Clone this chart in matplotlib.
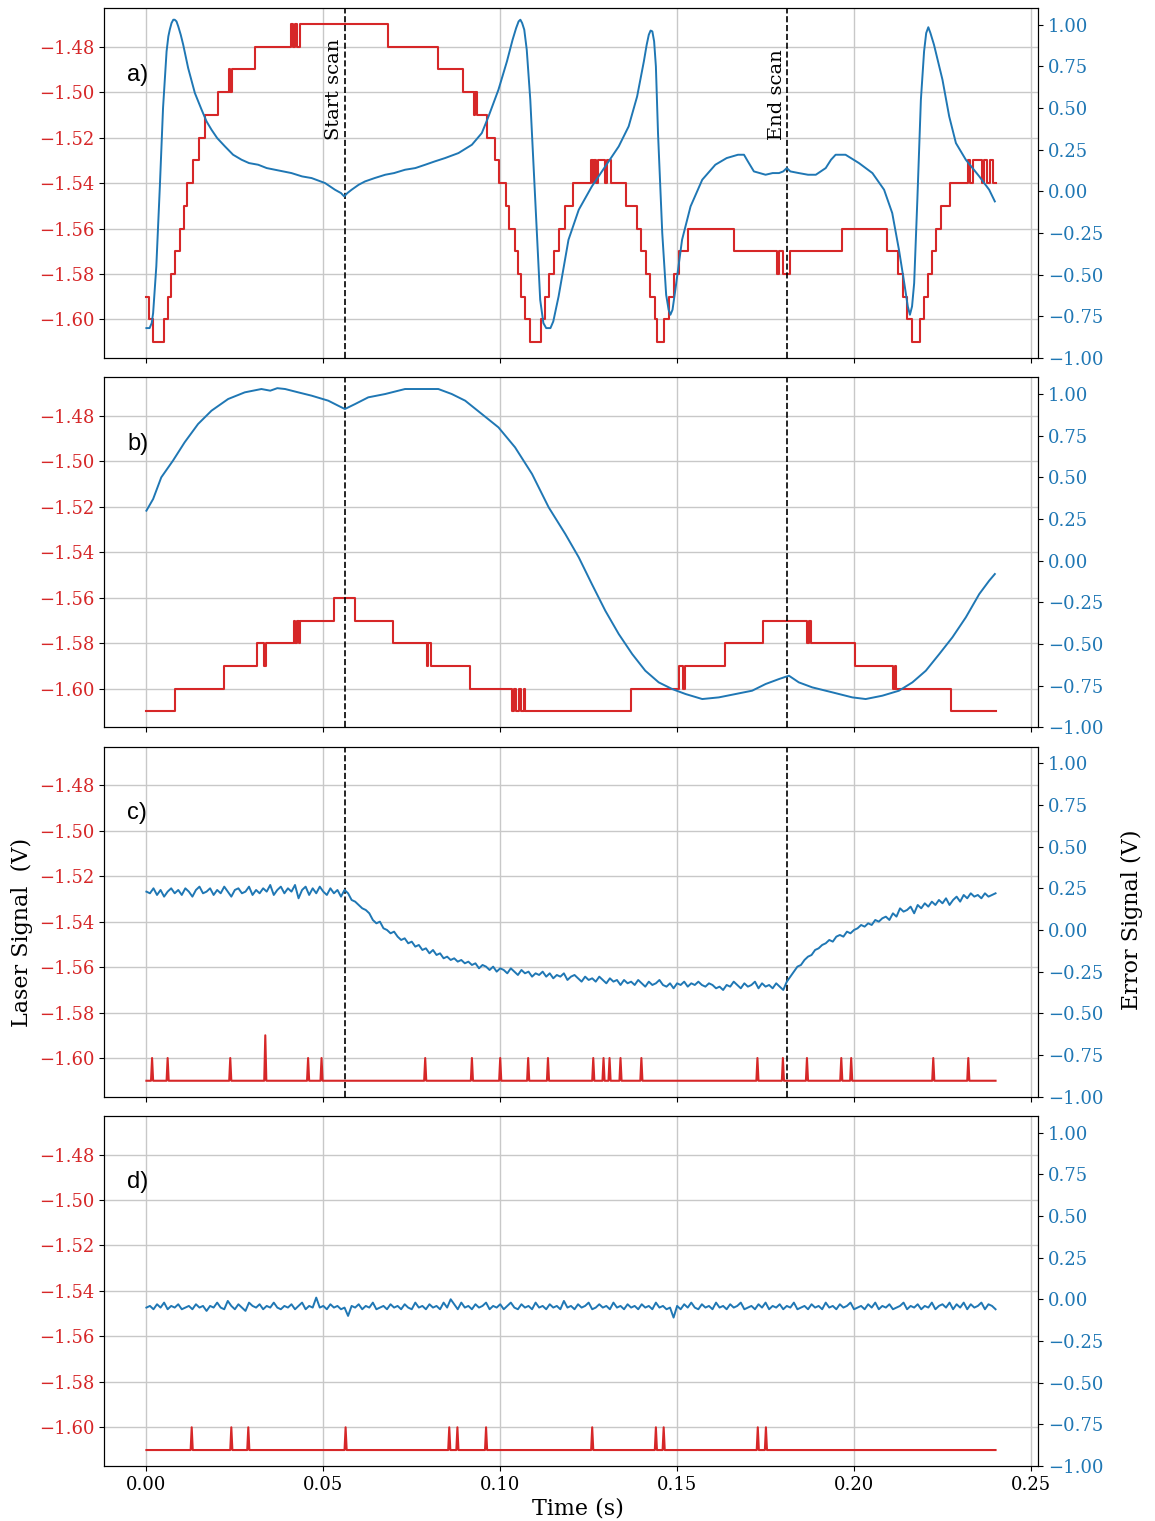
import matplotlib
matplotlib.use("Agg")
import matplotlib.pyplot as plt
import numpy as np

plt.rcParams["font.family"] = "DejaVu Serif"
plt.rcParams["axes.unicode_minus"] = True

RED = "#d62728"
BLUE = "#1f77b4"
T_END = 0.24
START_SCAN = 0.056
END_SCAN = 0.181

# ---- panel a: laser signal (level changes) ----
laser_a_t = [0, 0.0007, 0.0019, 0.0049, 0.0061, 0.0069, 0.0082, 0.0094, 0.0105, 0.0115,
             0.0132, 0.0148, 0.0167, 0.0201, 0.0233, 0.0237, 0.0241, 0.0307,
             0.0408, 0.0413, 0.0420, 0.0426, 0.0433, 0.0682,
             0.0823, 0.0894, 0.0925, 0.0929, 0.0933, 0.0962, 0.0986, 0.0996,
             0.1016, 0.1026, 0.1041, 0.1051, 0.1060, 0.1071, 0.1083, 0.1115, 0.1126, 0.1138,
             0.1152, 0.1166, 0.1183, 0.1205, 0.1257, 0.1261, 0.1266, 0.1270, 0.1276, 0.1297,
             0.1303, 0.1312, 0.1356, 0.1388, 0.1399, 0.1411, 0.1422, 0.1437, 0.1442, 0.1462,
             0.1478, 0.1491, 0.1505, 0.1531, 0.1662, 0.1781, 0.1788, 0.1799, 0.1819, 0.1967,
             0.2094, 0.2125, 0.2139, 0.2151, 0.2165, 0.2186, 0.2198, 0.2209, 0.2219, 0.2231,
             0.2247, 0.2271, 0.2321, 0.2327, 0.2335, 0.2361, 0.2368, 0.2377, 0.2384, 0.2392]
laser_a_v = [-1.59, -1.60, -1.61, -1.60, -1.59, -1.58, -1.57, -1.56, -1.55, -1.54,
             -1.53, -1.52, -1.51, -1.50, -1.49, -1.50, -1.49, -1.48,
             -1.47, -1.48, -1.47, -1.48, -1.47, -1.48,
             -1.49, -1.50, -1.51, -1.50, -1.51, -1.52, -1.53, -1.54,
             -1.55, -1.56, -1.57, -1.58, -1.59, -1.60, -1.61, -1.60, -1.59, -1.58,
             -1.57, -1.56, -1.55, -1.54, -1.53, -1.54, -1.53, -1.54, -1.53, -1.54,
             -1.53, -1.54, -1.55, -1.56, -1.57, -1.58, -1.59, -1.60, -1.61, -1.60,
             -1.59, -1.58, -1.57, -1.56, -1.57, -1.58, -1.57, -1.58, -1.57, -1.56,
             -1.57, -1.58, -1.59, -1.60, -1.61, -1.60, -1.59, -1.58, -1.57, -1.56,
             -1.55, -1.54, -1.53, -1.54, -1.53, -1.54, -1.53, -1.54, -1.53, -1.54]

# ---- panel a: error signal ----
error_a_t = [0, 0.0009, 0.0015, 0.0019, 0.0028, 0.0038, 0.0047, 0.0057, 0.0062, 0.0066,
             0.0071, 0.0076, 0.0080, 0.0085, 0.0090, 0.0097, 0.0104, 0.0118, 0.0137, 0.0156,
             0.0170, 0.0184, 0.0200, 0.0222, 0.0245, 0.0269, 0.0290, 0.0316, 0.0340, 0.0363,
             0.0385, 0.0410, 0.0440, 0.0467, 0.0505, 0.0533, 0.0550, 0.0559, 0.0568, 0.0580,
             0.0600, 0.0618, 0.0645, 0.0675, 0.0700, 0.0731, 0.0760, 0.0788, 0.0815, 0.0844,
             0.0882, 0.0920, 0.0948, 0.0967, 0.0995, 0.1019, 0.1035, 0.1045, 0.1052, 0.1057,
             0.1062, 0.1068, 0.1075, 0.1085, 0.1099, 0.1113, 0.1122, 0.1130, 0.1142, 0.1150,
             0.1165, 0.1193, 0.1222, 0.1259, 0.1297, 0.1335, 0.1363, 0.1387, 0.1406, 0.1414,
             0.1420, 0.1425, 0.1430, 0.1435, 0.1440, 0.1446, 0.1458, 0.1469, 0.1476, 0.1481,
             0.1487, 0.1495, 0.1514, 0.1538, 0.1571, 0.1608, 0.1640, 0.1656, 0.1672, 0.1689,
             0.1700, 0.1717, 0.1750, 0.1770, 0.1788, 0.1800, 0.1810, 0.1820, 0.1844, 0.1870,
             0.1892, 0.1920, 0.1935, 0.1948, 0.1962, 0.1976, 0.2014, 0.2052, 0.2085, 0.2108,
             0.2127, 0.2142, 0.2152, 0.2158, 0.2164, 0.2170, 0.2179, 0.2189, 0.2198, 0.2204,
             0.2210, 0.2216, 0.2226, 0.2250, 0.2269, 0.2288, 0.2316, 0.2354, 0.2382, 0.2398]
error_a_v = [-0.82, -0.82, -0.79, -0.73, -0.45, 0.03, 0.50, 0.84, 0.93, 0.97,
             1.01, 1.03, 1.03, 1.02, 0.99, 0.94, 0.88, 0.74, 0.59, 0.49,
             0.42, 0.37, 0.32, 0.27, 0.22, 0.19, 0.17, 0.16, 0.14, 0.13,
             0.12, 0.11, 0.09, 0.08, 0.05, 0.01, -0.01, -0.03, -0.01, 0.01,
             0.04, 0.06, 0.08, 0.10, 0.11, 0.13, 0.14, 0.16, 0.18, 0.20,
             0.23, 0.28, 0.35, 0.45, 0.61, 0.78, 0.91, 0.98, 1.02, 1.03,
             1.01, 0.97, 0.85, 0.55, -0.05, -0.65, -0.79, -0.82, -0.82, -0.78,
             -0.63, -0.29, -0.11, 0.03, 0.15, 0.27, 0.39, 0.57, 0.78, 0.88,
             0.94, 0.965, 0.96, 0.90, 0.75, 0.35, -0.25, -0.62, -0.71, -0.74,
             -0.71, -0.59, -0.29, -0.09, 0.07, 0.16, 0.20, 0.21, 0.22, 0.22,
             0.18, 0.12, 0.10, 0.11, 0.11, 0.12, 0.14, 0.12, 0.11, 0.10,
             0.10, 0.14, 0.19, 0.22, 0.22, 0.22, 0.17, 0.11, 0.01, -0.13,
             -0.35, -0.55, -0.69, -0.74, -0.69, -0.55, -0.05, 0.55, 0.84, 0.95,
             0.985, 0.95, 0.88, 0.67, 0.45, 0.29, 0.19, 0.09, 0.01, -0.06]

# ---- panel b ----
laser_b_t = [0, 0.0082, 0.0218, 0.0313, 0.0332, 0.0337, 0.0417, 0.0421, 0.0426, 0.0430,
             0.0435, 0.0530, 0.0590, 0.0698, 0.0792, 0.0797, 0.0804, 0.0915,
             0.1033, 0.1039, 0.1046, 0.1053, 0.1060, 0.1066, 0.1071,
             0.1371, 0.1505, 0.1516, 0.1522, 0.1634, 0.1742, 0.1868, 0.1873, 0.1879,
             0.2002, 0.2111, 0.2115, 0.2120, 0.2274]
laser_b_v = [-1.61, -1.60, -1.59, -1.58, -1.59, -1.58, -1.57, -1.58, -1.57, -1.58,
             -1.57, -1.56, -1.57, -1.58, -1.59, -1.58, -1.59, -1.60,
             -1.61, -1.60, -1.61, -1.60, -1.61, -1.60, -1.61,
             -1.60, -1.59, -1.60, -1.59, -1.58, -1.57, -1.58, -1.57, -1.58,
             -1.59, -1.60, -1.59, -1.60, -1.61]

error_b_t = [0, 0.0019, 0.0042, 0.0075, 0.0108, 0.0146, 0.0184, 0.0231, 0.0278, 0.0325,
             0.0350, 0.0370, 0.0392, 0.0429, 0.0467, 0.0514, 0.0542, 0.0561, 0.0590, 0.0627,
             0.0675, 0.0731, 0.0778, 0.0825, 0.0863, 0.0901, 0.0948, 0.0995, 0.1042, 0.1090,
             0.1137, 0.1184, 0.1222, 0.1259, 0.1297, 0.1335, 0.1373, 0.1410, 0.1448, 0.1486,
             0.1524, 0.1571, 0.1618, 0.1665, 0.1712, 0.1750, 0.1788, 0.1816, 0.1844, 0.1882,
             0.1939, 0.1995, 0.2033, 0.2080, 0.2127, 0.2165, 0.2203, 0.2241, 0.2278, 0.2316,
             0.2354, 0.2382, 0.2398]
error_b_v = [0.30, 0.37, 0.50, 0.60, 0.71, 0.82, 0.90, 0.97, 1.01, 1.03,
             1.02, 1.035, 1.03, 1.01, 0.99, 0.96, 0.93, 0.91, 0.94, 0.98,
             1.00, 1.03, 1.03, 1.03, 1.00, 0.96, 0.88, 0.80, 0.68, 0.52,
             0.32, 0.16, 0.02, -0.14, -0.30, -0.44, -0.56, -0.66, -0.73, -0.77,
             -0.80, -0.83, -0.82, -0.80, -0.78, -0.74, -0.71, -0.69, -0.73, -0.76,
             -0.79, -0.82, -0.83, -0.81, -0.78, -0.73, -0.66, -0.56, -0.46, -0.34,
             -0.20, -0.12, -0.08]

# ---- panel c: spikes on a flat laser signal, error sampled every 1 ms ----
spike_c_t = [0.0016, 0.0060, 0.0237, 0.0336, 0.0457, 0.0495, 0.0788, 0.0920, 0.1000, 0.1079,
             0.1135, 0.1263, 0.1292, 0.1309, 0.1340, 0.1399, 0.1727, 0.1799, 0.1867, 0.1964,
             0.1992, 0.2224, 0.2323]
spike_c_v = [-1.60, -1.60, -1.60, -1.59, -1.60, -1.60, -1.60, -1.60, -1.60, -1.60,
             -1.60, -1.60, -1.60, -1.60, -1.60, -1.60, -1.60, -1.60, -1.60, -1.60,
             -1.60, -1.60, -1.60]
error_c = [0.23, 0.22, 0.25, 0.21, 0.24, 0.20, 0.23, 0.25, 0.22, 0.24,
           0.21, 0.25, 0.23, 0.20, 0.24, 0.26, 0.22, 0.23, 0.25, 0.21,
           0.24, 0.22, 0.26, 0.23, 0.20, 0.24, 0.25, 0.22, 0.23, 0.26,
           0.21, 0.24, 0.22, 0.25, 0.23, 0.27, 0.21, 0.24, 0.26, 0.22,
           0.25, 0.23, 0.27, 0.19, 0.24, 0.26, 0.21, 0.25, 0.22, 0.26,
           0.23, 0.21, 0.25, 0.22, 0.24, 0.20, 0.24, 0.22, 0.18, 0.17,
           0.15, 0.13, 0.12, 0.10, 0.06, 0.04, 0.05, 0.01, 0.00, -0.02,
           -0.01, -0.04, -0.06, -0.05, -0.08, -0.07, -0.10, -0.09, -0.12, -0.11,
           -0.14, -0.12, -0.15, -0.14, -0.17, -0.16, -0.18, -0.17, -0.19, -0.18,
           -0.20, -0.19, -0.21, -0.20, -0.23, -0.21, -0.22, -0.24, -0.22, -0.25,
           -0.23, -0.24, -0.26, -0.23, -0.25, -0.27, -0.24, -0.26, -0.25, -0.28,
           -0.26, -0.27, -0.25, -0.28, -0.26, -0.29, -0.27, -0.28, -0.26, -0.30,
           -0.28, -0.27, -0.29, -0.31, -0.28, -0.30, -0.29, -0.31, -0.28, -0.30,
           -0.32, -0.29, -0.31, -0.30, -0.33, -0.30, -0.32, -0.31, -0.33, -0.30,
           -0.32, -0.34, -0.31, -0.33, -0.32, -0.30, -0.33, -0.34, -0.32, -0.35,
           -0.32, -0.33, -0.31, -0.34, -0.32, -0.33, -0.31, -0.33, -0.34, -0.32,
           -0.33, -0.35, -0.34, -0.36, -0.33, -0.34, -0.31, -0.33, -0.35, -0.32,
           -0.34, -0.33, -0.31, -0.35, -0.32, -0.34, -0.33, -0.35, -0.32, -0.34,
           -0.36, -0.31, -0.28, -0.25, -0.22, -0.21, -0.18, -0.16, -0.15, -0.12,
           -0.11, -0.09, -0.08, -0.06, -0.07, -0.04, -0.03, -0.04, -0.01, -0.02,
           0.00, 0.01, 0.03, 0.02, 0.04, 0.03, 0.06, 0.05, 0.07, 0.08,
           0.06, 0.10, 0.08, 0.13, 0.11, 0.12, 0.14, 0.10, 0.15, 0.13,
           0.16, 0.14, 0.17, 0.15, 0.18, 0.16, 0.19, 0.15, 0.18, 0.20,
           0.17, 0.21, 0.19, 0.22, 0.20, 0.21, 0.19, 0.22, 0.20, 0.21,
           0.22]

# ---- panel d ----
spike_d_t = [0.0128, 0.0240, 0.0288, 0.0563, 0.0856, 0.0879, 0.0960, 0.1260, 0.1440, 0.1462,
             0.1728, 0.1751]
spike_d_v = [-1.60] * 12
error_d = [-0.05, -0.04, -0.06, -0.03, -0.05, -0.02, -0.06, -0.04, -0.05, -0.03,
           -0.06, -0.05, -0.04, -0.06, -0.03, -0.05, -0.04, -0.07, -0.04, -0.05,
           -0.02, -0.05, -0.06, -0.01, -0.04, -0.06, -0.03, -0.05, -0.07, -0.02,
           -0.04, -0.05, -0.03, -0.06, -0.04, -0.05, -0.02, -0.05, -0.06, -0.04,
           -0.05, -0.03, -0.06, -0.04, -0.02, -0.06, -0.04, -0.05, 0.01, -0.05,
           -0.04, -0.06, -0.03, -0.05, -0.04, -0.06, -0.05, -0.10, -0.04, -0.05,
           -0.03, -0.06, -0.04, -0.05, -0.02, -0.06, -0.05, -0.04, -0.06, -0.03,
           -0.05, -0.04, -0.06, -0.03, -0.05, -0.06, -0.02, -0.05, -0.04, -0.06,
           -0.03, -0.05, -0.04, -0.06, -0.02, -0.05, 0.00, -0.03, -0.06, -0.02,
           -0.05, -0.04, -0.06, -0.03, -0.05, -0.04, -0.02, -0.06, -0.04, -0.05,
           -0.03, -0.06, -0.04, -0.02, -0.05, -0.06, -0.03, -0.05, -0.04, -0.06,
           -0.02, -0.05, -0.04, -0.06, -0.03, -0.05, -0.04, -0.06, -0.01, -0.05,
           -0.04, -0.06, -0.03, -0.05, -0.04, -0.02, -0.06, -0.05, -0.03, -0.05,
           -0.04, -0.06, -0.02, -0.05, -0.04, -0.06, -0.03, -0.05, -0.04, -0.06,
           -0.03, -0.05, -0.04, -0.06, -0.02, -0.05, -0.04, -0.06, -0.05, -0.11,
           -0.04, -0.06, -0.03, -0.05, -0.02, -0.05, -0.06, -0.03, -0.05, -0.04,
           -0.06, -0.02, -0.05, -0.04, -0.06, -0.03, -0.05, -0.04, -0.02, -0.06,
           -0.05, -0.04, -0.06, -0.03, -0.05, -0.02, -0.06, -0.04, -0.05, -0.03,
           -0.06, -0.04, -0.05, -0.02, -0.06, -0.05, -0.04, -0.06, -0.03, -0.05,
           -0.04, -0.06, -0.02, -0.05, -0.04, -0.06, -0.03, -0.05, -0.04, -0.02,
           -0.06, -0.05, -0.04, -0.06, -0.03, -0.05, -0.02, -0.06, -0.04, -0.05,
           -0.03, -0.06, -0.05, -0.04, -0.02, -0.06, -0.04, -0.05, -0.03, -0.06,
           -0.04, -0.05, -0.02, -0.06, -0.04, -0.03, -0.05, -0.02, -0.06, -0.03,
           -0.05, -0.02, -0.06, -0.03, -0.05, -0.04, -0.02, -0.06, -0.03, -0.04,
           -0.06]

BASE = -1.61


def spike_line(times, levels):
    # flat baseline with a one-sample spike at each time
    t = [0.0]
    v = [BASE]
    for ts, lv in zip(times, levels):
        t += [ts - 0.0003, ts, ts + 0.0003]
        v += [BASE, lv, BASE]
    return t + [T_END], v + [BASE], "default"


def step_line(t, v):
    return list(t) + [T_END], list(v) + [v[-1]], "steps-post"


panels = [
    ("a)", step_line(laser_a_t, laser_a_v), (error_a_t, error_a_v), True),
    ("b)", step_line(laser_b_t, laser_b_v), (error_b_t, error_b_v), True),
    ("c)", spike_line(spike_c_t, spike_c_v), (np.arange(len(error_c)) * 0.001, error_c), True),
    ("d)", spike_line(spike_d_t, spike_d_v), (np.arange(len(error_d)) * 0.001, error_d), False),
]

fig, axes = plt.subplots(4, 1, sharex=True, sharey=True, figsize=(11.55, 15.21), dpi=100)
fig.subplots_adjust(left=0.090, right=0.8987, top=0.9947, bottom=0.0362, hspace=0.055)

for ax, (label, (lt, lv, ds), (et, ev), scan_lines) in zip(axes, panels):
    ax.plot(lt, lv, color=RED, lw=1.5, drawstyle=ds)
    ax.set_ylim(-1.617, -1.463)
    ax.set_xlim(-0.012, 0.252)
    ax.set_yticks([-1.60, -1.58, -1.56, -1.54, -1.52, -1.50, -1.48])
    ax.tick_params(axis="y", labelcolor=RED, labelsize=13)
    ax.tick_params(axis="x", labelsize=13)
    ax.grid(True, color="#c8c8c8", lw=1.0)
    ax.set_axisbelow(True)

    ax2 = ax.twinx()
    ax2.plot(et, ev, color=BLUE, lw=1.4)
    ax2.set_ylim(-1.0, 1.1)
    ax2.set_yticks([-1.0, -0.75, -0.5, -0.25, 0.0, 0.25, 0.5, 0.75, 1.0])
    ax2.tick_params(axis="y", labelcolor=BLUE, labelsize=13)

    if scan_lines:
        ax.axvline(START_SCAN, color="black", ls="--", lw=1.2)
        ax.axvline(END_SCAN, color="black", ls="--", lw=1.2)

    ax.text(0.025, 0.81, label, transform=ax.transAxes, fontsize=17,
            family=["Liberation Sans", "DejaVu Sans"], va="center", ha="left")

axes[0].text(START_SCAN - 0.0003, -1.521, "Start scan", rotation=90, fontsize=14,
             ha="right", va="bottom")
axes[0].text(END_SCAN - 0.0003, -1.521, "End scan", rotation=90, fontsize=14,
             ha="right", va="bottom")

axes[3].set_xticks([0.0, 0.05, 0.10, 0.15, 0.20, 0.25])
fig.text(0.5004, 0.0079, "Time (s)", fontsize=16, ha="center", va="center")
fig.text(22 / 1155, 1 - 932 / 1521, "Laser Signal  (V)", fontsize=16, rotation=90,
         ha="center", va="center")
fig.text(1132 / 1155, 1 - 920 / 1521, "Error Signal (V)", fontsize=16, rotation=90,
         ha="center", va="center")

fig.savefig("out.png", dpi=100)
